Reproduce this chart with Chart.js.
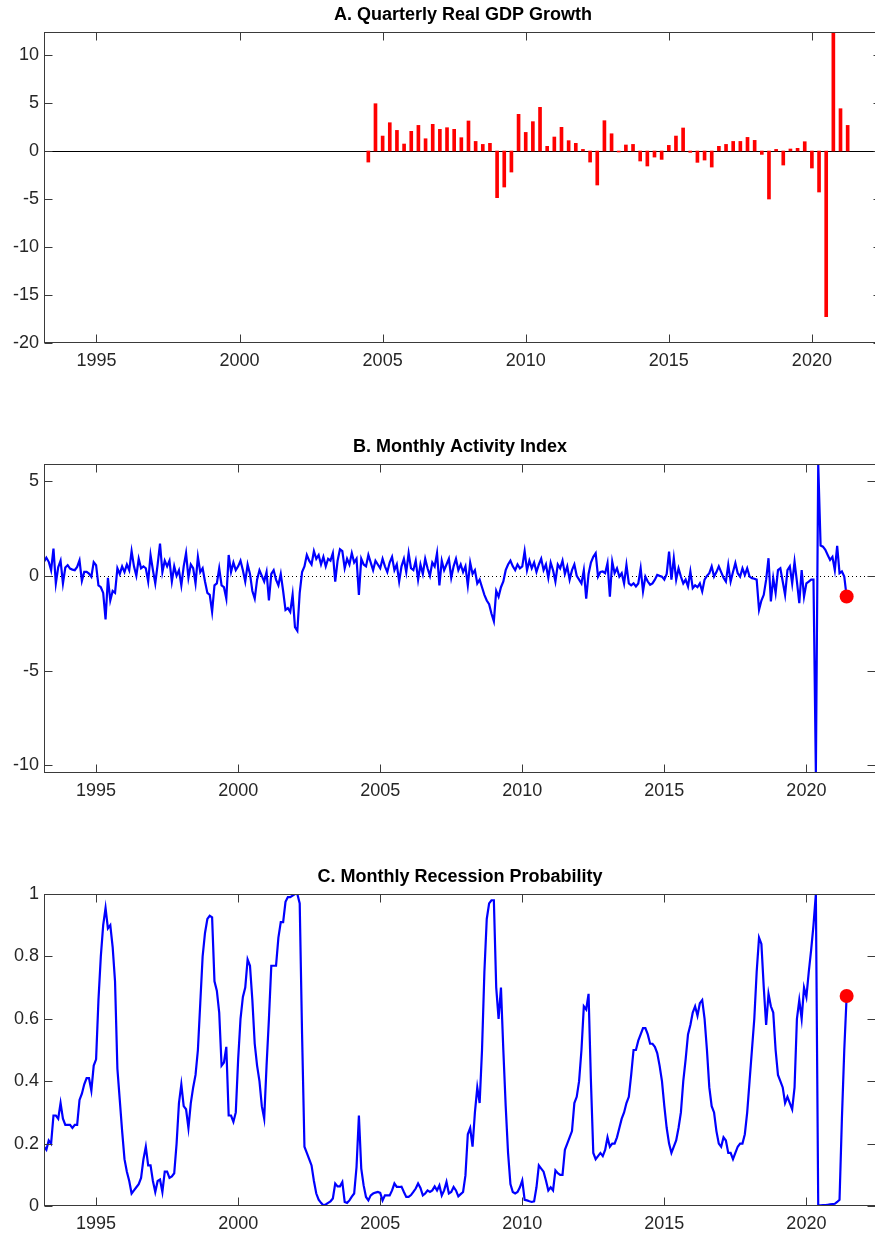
<!DOCTYPE html>
<html lang="en">
<head>
<meta charset="UTF-8">
<title>GDP growth, activity index and recession probability</title>
<script src="https://cdn.jsdelivr.net/npm/chart.js"></script>
<style>
  body { margin: 0; background: #fff; overflow: hidden; }
  .panel { position: absolute; left: 0; }
</style>
</head>
<body>
<div class="panel" style="top:0"><canvas id="chartA" width="883" height="383"></canvas></div>
<div class="panel" style="top:432px"><canvas id="chartB" width="883" height="381"></canvas></div>
<div class="panel" style="top:862px"><canvas id="chartC" width="883" height="374"></canvas></div>

<script>
// quarterly growth, first bar at 2004.5, one bar per quarter
var gdpStart = 2004.5;
var gdpGrowth = [
  -1.15, 4.93, 1.56, 2.95, 2.15, 0.73, 2.05, 2.67, 1.28, 2.78,
  2.26, 2.43, 2.26, 1.39, 3.13, 1.0, 0.69, 0.8, -4.86, -3.75,
  -2.19, 3.82, 1.94, 3.06, 4.55, 0.49, 1.46, 2.47, 1.08, 0.8,
  0.17, -1.15, -3.54, 3.16, 1.8, -0.1, 0.63, 0.69, -1.04, -1.56,
  -0.63, -0.87, 0.59, 1.56, 2.4, -0.14, -1.18, -0.94, -1.67, 0.49,
  0.69, 1.0, 1.0, 1.42, 1.11, -0.35, -5.0, 0.17, -1.46, 0.21,
  0.28, 0.97, -1.77, -4.27, -17.26, 12.4, 4.41, 2.67
];

// monthly series, first month at 1993 + 2/12
var monthStart = 1993 + 2 / 12;
var activityIndex = [
  0.74, 0.96, 0.74, 0.3, 1.44, -0.4, 0.45, 0.8, -0.4, 0.44,
  0.56, 0.38, 0.33, 0.3, 0.47, 0.82, -0.26, 0.21, 0.21, 0.12, -0.05, 0.72,
  0.56, -0.5, -0.6, -0.9, -2.3, -0.1, -1.3, -0.8, -0.9, 0.4, 0.1, 0.5,
  0.2, 0.6, 0.3, 1.3, 0.5, 0.0, 0.9, 0.4, 0.5, 0.4, -0.3, 1.1,
  0.3, -0.4, 0.6, 1.7, 0.2, 0.8, 0.5, 0.8, -0.3, 0.5, 0.0, 0.3,
  -0.5, 0.5, 1.2, -0.1, 0.6, 0.4, -0.4, 1.0, 0.2, 0.4, -0.3, -0.9,
  -1.0, -1.9, -0.5, -0.4, 0.4, -0.5, -0.6, -1.2, 1.1, 0.2, 0.7, 0.3,
  0.5, 0.8, 0.3, -0.3, 0.6, 0.1, -0.8, -1.2, -0.2, 0.3, 0.0, -0.3,
  0.2, -1.3, 0.1, 0.3, -0.2, -0.5, 0.1, -0.8, -1.8, -1.7, -1.9, -1.0,
  -2.7, -2.9, -0.9, 0.2, 0.5, 1.1, 0.8, 0.6, 1.3, 0.9, 1.1, 0.6,
  1.0, 0.5, 0.9, 0.8, 1.2, -0.3, 0.8, 1.4, 1.3, 0.4, 0.9, 0.6,
  1.2, 0.7, 0.9, -1.0, 0.9, 0.6, 0.5, 1.1, 0.7, 0.3, 0.8, 0.6,
  0.4, 0.9, 0.5, 0.2, 0.7, 1.0, 0.3, 0.6, -0.3, 0.5, 0.9, 0.2,
  1.2, 0.4, 0.3, 0.8, -0.2, 0.6, 0.1, 0.9, 0.4, 0.0, 0.7, 0.5,
  1.2, -0.5, 0.8, 0.3, 0.6, 0.9, -0.1, 0.5, 0.9, 0.3, 0.6, 0.2,
  0.5, -0.5, 0.7, 0.1, 0.3, -0.4, -0.2, -0.6, -1.0, -1.3, -1.5, -2.0,
  -2.4, -0.8, -1.1, -0.6, -0.3, 0.3, 0.6, 0.8, 0.5, 0.3, 0.6, 0.4,
  0.5, 1.3, 0.3, 0.8, 0.4, 0.7, 0.2, 0.6, 0.9, 0.3, 0.6, -0.1,
  0.7, 0.3, -0.3, 0.6, 0.4, 0.8, 0.1, 0.5, -0.2, 0.3, 0.6, 0.0,
  -0.2, -0.4, 0.3, -1.2, 0.1, 0.7, 1.0, 1.19, -0.04, 0.2, 0.23, 0.14,
  0.67, -1.1, 0.75, 0.14, 0.4, -0.04, 0.14, -0.4, 0.58, -0.4, -0.5, -0.4,
  -0.56, -0.4, 0.4, -0.82, -0.04, -0.3, -0.47, -0.4, -0.2, 0.05, 0.0, -0.04,
  -0.2, 0.1, 1.28, -0.2, 0.93, -0.2, 0.4, -0.04, -0.4, -0.2, -0.56, 0.23,
  -0.65, -0.5, -0.6, -0.4, -0.82, -0.2, 0.0, 0.14, 0.5, -0.04, 0.2, 0.5,
  0.2, -0.1, -0.3, 0.58, -0.3, 0.2, 0.67, 0.14, -0.04, 0.4, 0.05, 0.4,
  -0.04, -0.12, -0.15, -0.2, -1.79, -1.3, -1.0, -0.2, 0.93, -1.35, -0.12, -0.9,
  0.3, 0.4, -0.3, -1.0, 0.3, 0.5, -0.4, 0.75, -0.3, -1.44, 0.3, -1.1,
  -0.4, -0.3, -0.2, -0.2, -10.4, 5.9, 1.6, 1.54, 1.37, 1.1, 0.84, 1.0,
  0.3, 1.58, 0.14, 0.23, -0.04, -1.09
];
var recessionProb = [
  0.19, 0.18, 0.21, 0.20, 0.29, 0.29, 0.28, 0.33, 0.28, 0.26,
  0.26, 0.26, 0.25, 0.26, 0.26, 0.34, 0.36, 0.39, 0.41, 0.41, 0.37, 0.45,
  0.47, 0.66, 0.8, 0.9, 0.955, 0.89, 0.9, 0.83, 0.72, 0.44, 0.34, 0.24,
  0.15, 0.11, 0.08, 0.04, 0.05, 0.06, 0.07, 0.09, 0.15, 0.19, 0.13, 0.13,
  0.08, 0.045, 0.08, 0.085, 0.045, 0.11, 0.11, 0.09, 0.095, 0.105, 0.2, 0.33,
  0.39, 0.32, 0.31, 0.25, 0.33, 0.38, 0.42, 0.5, 0.65, 0.8, 0.875, 0.92,
  0.93, 0.925, 0.72, 0.69, 0.62, 0.45, 0.46, 0.51, 0.29, 0.29, 0.27, 0.3,
  0.47, 0.6, 0.67, 0.7, 0.79, 0.77, 0.66, 0.52, 0.45, 0.4, 0.32, 0.28,
  0.45, 0.6, 0.77, 0.77, 0.77, 0.86, 0.91, 0.91, 0.975, 0.99, 0.99, 0.995,
  1.0, 1.0, 0.97, 0.55, 0.19, 0.17, 0.15, 0.13, 0.08, 0.04, 0.02, 0.01,
  0.002, 0.005, 0.01, 0.015, 0.024, 0.072, 0.063, 0.063, 0.077, 0.013, 0.01, 0.018,
  0.03, 0.04, 0.125, 0.29, 0.12, 0.066, 0.029, 0.018, 0.034, 0.04, 0.043, 0.045,
  0.042, 0.018, 0.034, 0.034, 0.034, 0.05, 0.072, 0.061, 0.061, 0.062, 0.045, 0.029,
  0.029, 0.035, 0.045, 0.056, 0.072, 0.058, 0.034, 0.04, 0.05, 0.045, 0.05, 0.063,
  0.05, 0.066, 0.034, 0.05, 0.077, 0.04, 0.045, 0.061, 0.05, 0.031, 0.038, 0.045,
  0.098, 0.23, 0.25, 0.19, 0.3, 0.38, 0.33, 0.5, 0.75, 0.92, 0.97, 0.98,
  0.98, 0.7, 0.6, 0.7, 0.5, 0.32, 0.17, 0.07, 0.045, 0.04, 0.045, 0.06,
  0.082, 0.02, 0.018, 0.015, 0.013, 0.015, 0.06, 0.13, 0.12, 0.11, 0.082, 0.05,
  0.06, 0.05, 0.114, 0.105, 0.1, 0.1, 0.18, 0.2, 0.22, 0.24, 0.33, 0.35,
  0.4, 0.5, 0.64, 0.63, 0.68, 0.4, 0.17, 0.15, 0.16, 0.17, 0.16, 0.18,
  0.22, 0.19, 0.2, 0.2, 0.22, 0.25, 0.28, 0.3, 0.33, 0.35, 0.42, 0.5,
  0.5, 0.53, 0.55, 0.57, 0.57, 0.55, 0.52, 0.52, 0.51, 0.49, 0.45, 0.4,
  0.32, 0.25, 0.2, 0.17, 0.19, 0.21, 0.25, 0.3, 0.4, 0.47, 0.55, 0.58,
  0.62, 0.64, 0.61, 0.65, 0.66, 0.6, 0.5, 0.38, 0.32, 0.3, 0.24, 0.2,
  0.19, 0.22, 0.21, 0.17, 0.17, 0.15, 0.17, 0.19, 0.2, 0.2, 0.23, 0.3,
  0.4, 0.5, 0.6, 0.75, 0.86, 0.84, 0.7, 0.58, 0.68, 0.64, 0.62, 0.5,
  0.42, 0.4, 0.38, 0.33, 0.35, 0.33, 0.31, 0.38, 0.6, 0.66, 0.6, 0.7,
  0.67, 0.75, 0.82, 0.9, 1.0, 0.002, 0.002, 0.003, 0.003, 0.004, 0.005, 0.006,
  0.007, 0.013, 0.02, 0.28, 0.5, 0.673
];

var yearTicks = [1995, 2000, 2005, 2010, 2015, 2020];
var gdpTicks = [-20, -15, -10, -5, 0, 5, 10];
var activityTicks = [-10, -5, 0, 5];
var probTicks = [0, 0.2, 0.4, 0.6, 0.8, 1];
var xMin = monthStart, xMax = 2022.45;

Chart.defaults.font.family = '"Liberation Sans", Arial, Helvetica, sans-serif';

// matlab-ish box with inward ticks, plus the zero line
var axesBox = {
  id: 'box',
  beforeDatasetsDraw: function (chart, args, opts) {
    if (!opts.zero) return;
    var a = chart.chartArea, ctx = chart.ctx;
    var py = Math.round(chart.scales.y.getPixelForValue(0)) + 0.5;
    ctx.save();
    ctx.strokeStyle = '#000';
    ctx.lineWidth = 1;
    ctx.setLineDash(opts.zero === 'dot' ? [1, 3] : []);
    ctx.beginPath();
    ctx.moveTo(a.left, py);
    ctx.lineTo(a.right, py);
    ctx.stroke();
    ctx.restore();
  },
  afterDraw: function (chart) {
    var a = chart.chartArea, ctx = chart.ctx, sx = chart.scales.x, sy = chart.scales.y;
    var L = Math.round(a.left) + 0.5, R = Math.round(a.right) - 0.5;
    var T = Math.round(a.top) + 0.5, B = Math.round(a.bottom) - 0.5;
    ctx.save();
    ctx.strokeStyle = '#3a3a3a';
    ctx.lineWidth = 1;
    ctx.strokeRect(L, T, R - L, B - T);
    ctx.beginPath();
    sx.ticks.forEach(function (t) {
      var px = Math.round(sx.getPixelForValue(t.value)) + 0.5;
      ctx.moveTo(px, B); ctx.lineTo(px, B - 8);
      ctx.moveTo(px, T); ctx.lineTo(px, T + 8);
    });
    sy.ticks.forEach(function (t) {
      var py = Math.round(sy.getPixelForValue(t.value)) + 0.5;
      ctx.moveTo(L, py); ctx.lineTo(L + 8, py);
      ctx.moveTo(R, py); ctx.lineTo(R - 8, py);
    });
    ctx.stroke();
    ctx.restore();
  }
};
Chart.register(axesBox);

function panelOptions(title, yMin, yMax, yTicks, xAxisHeight, zero) {
  return {
    responsive: false,
    animation: false,
    devicePixelRatio: 1,
    layout: { padding: { right: 1 } },
    scales: {
      x: {
        type: 'linear', min: xMin, max: xMax, offset: false,
        grid: { display: false, drawTicks: false },
        border: { display: false },
        afterBuildTicks: function (s) { s.ticks = yearTicks.map(function (v) { return { value: v }; }); },
        afterFit: function (s) { s.height = xAxisHeight; },
        ticks: { padding: 7, color: '#262626', font: { size: 18 }, maxRotation: 0, autoSkip: false,
                 callback: function (v) { return String(v); } }
      },
      y: {
        min: yMin, max: yMax,
        grid: { display: false, drawTicks: false },
        border: { display: false },
        afterBuildTicks: function (s) { s.ticks = yTicks.map(function (v) { return { value: v }; }); },
        afterFit: function (s) { s.width = 44; },
        ticks: { padding: 5, color: '#262626', font: { size: 18 },
                 callback: function (v) { return String(Math.round(v * 10) / 10); } }
      }
    },
    plugins: {
      legend: { display: false },
      tooltip: { enabled: false },
      title: { display: true, text: title, fullSize: false, color: '#000',
               font: { size: 18, weight: 'bold' }, padding: { top: 4, bottom: 6.4 } },
      box: { zero: zero }
    }
  };
}

function monthly(values) {
  return values.map(function (v, i) { return { x: monthStart + i / 12, y: v }; });
}
function lastPoint(values) {
  var i = values.length - 1;
  return [{ x: monthStart + i / 12, y: values[i] }];
}

new Chart(document.getElementById('chartA'), {
  type: 'bar',
  data: {
    datasets: [{
      data: gdpGrowth.map(function (v, i) { return { x: gdpStart + i * 0.25, y: v }; }),
      backgroundColor: '#ff0000',
      borderWidth: 0,
      barThickness: 3
    }]
  },
  options: panelOptions('A. Quarterly Real GDP Growth', -20, 12.4, gdpTicks, 40, 'solid')
});

new Chart(document.getElementById('chartB'), {
  type: 'line',
  data: {
    datasets: [
      { data: lastPoint(activityIndex), showLine: false, pointRadius: 7,
        pointBackgroundColor: '#ff0000', pointBorderWidth: 0 },
      { data: monthly(activityIndex), borderColor: '#0000ff', borderWidth: 2.2,
        pointRadius: 0, tension: 0, fill: false }
    ]
  },
  options: panelOptions('B. Monthly Activity Index', -10.4, 5.9, activityTicks, 40, 'dot')
});

new Chart(document.getElementById('chartC'), {
  type: 'line',
  data: {
    datasets: [
      { data: lastPoint(recessionProb), showLine: false, pointRadius: 7,
        pointBackgroundColor: '#ff0000', pointBorderWidth: 0 },
      { data: monthly(recessionProb), borderColor: '#0000ff', borderWidth: 2.2,
        pointRadius: 0, tension: 0, fill: false }
    ]
  },
  options: panelOptions('C. Monthly Recession Probability', 0, 1, probTicks, 30, null)
});
</script>
</body>
</html>
